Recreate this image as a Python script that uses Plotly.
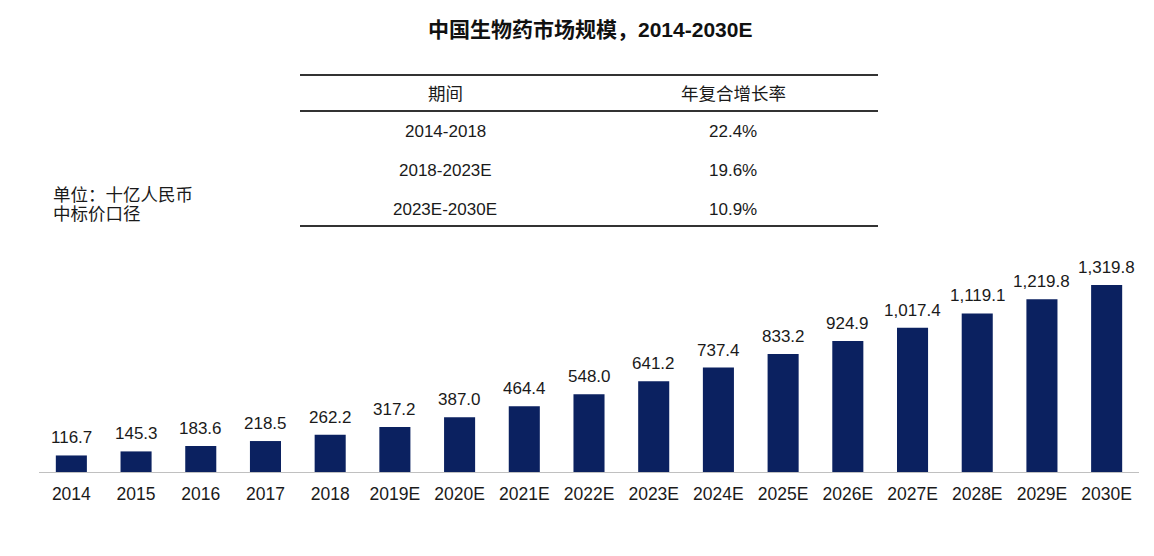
import plotly.graph_objects as go

years = ["2014", "2015", "2016", "2017", "2018", "2019E", "2020E", "2021E", "2022E",
         "2023E", "2024E", "2025E", "2026E", "2027E", "2028E", "2029E", "2030E"]
values = [116.7, 145.3, 183.6, 218.5, 262.2, 317.2, 387.0, 464.4, 548.0,
          641.2, 737.4, 833.2, 924.9, 1017.4, 1119.1, 1219.8, 1319.8]

periods = ["2014-2018", "2018-2023E", "2023E-2030E"]
cagr = ["22.4%", "19.6%", "10.9%"]
table_headers = ["期间", "年复合增长率"]

title = "<b>中国生物药市场规模，2014-2030E</b>"
unit_lines = ["单位：十亿人民币", "中标价口径"]

W, H = 1154, 556
ML, MR, MT, MB = 39, 15, 250, 84
PW = W - ML - MR
PH = H - MT - MB

def px(x):
    return (x - ML) / PW

def py(y):
    return (H - MB - y) / PH

FONT = "Liberation Sans, Arial, Noto Sans CJK SC, sans-serif"
BAR = "#0b2160"
TXT = "#1a1a1a"

labels = [f"{v:,.1f}" for v in values]

fig = go.Figure()
fig.add_trace(go.Bar(
    x=years, y=values, marker=dict(color=BAR, line=dict(width=0)),
    hoverinfo="skip",
))

shapes = []
for yy in [75, 111, 226]:
    shapes.append(dict(type="line", xref="paper", yref="paper",
                       x0=px(300), x1=px(878), y0=py(yy), y1=py(yy),
                       line=dict(color="#333333", width=2)))

ann = []
# data labels
for i, (v, lab) in enumerate(zip(values, labels)):
    ann.append(dict(text=lab, x=i, y=v, xref="x", yref="y", showarrow=False,
                    xanchor="center", yanchor="bottom", yshift=6,
                    font=dict(size=17, color=TXT, family=FONT)))
ann.append(dict(text=title, x=px(590), y=py(30), xref="paper", yref="paper",
                showarrow=False, xanchor="center", yanchor="middle",
                font=dict(size=21, color="#111111", family=FONT)))
col_x = [445, 733]
for i, h in enumerate(table_headers):
    ann.append(dict(text=h, x=px(col_x[i]), y=py(94), xref="paper", yref="paper",
                    showarrow=False, xanchor="center", yanchor="middle",
                    font=dict(size=17.5, color=TXT, family=FONT)))
row_y = [131, 170, 209]
for i in range(len(periods)):
    ann.append(dict(text=periods[i], x=px(col_x[0]), y=py(row_y[i]), xref="paper", yref="paper",
                    showarrow=False, xanchor="center", yanchor="middle",
                    font=dict(size=17, color=TXT, family=FONT)))
    ann.append(dict(text=cagr[i], x=px(col_x[1]), y=py(row_y[i]), xref="paper", yref="paper",
                    showarrow=False, xanchor="center", yanchor="middle",
                    font=dict(size=17, color=TXT, family=FONT)))
for i, line in enumerate(unit_lines):
    ann.append(dict(text=line, x=px(51), y=py(195 + 19 * i), xref="paper", yref="paper",
                    showarrow=False, xanchor="left", yanchor="middle", align="left",
                    font=dict(size=17.5, color=TXT, family=FONT)))

fig.update_layout(
    width=W, height=H,
    margin=dict(l=ML, r=MR, t=MT, b=MB),
    paper_bgcolor="white", plot_bgcolor="white",
    bargap=0.52, showlegend=False,
    shapes=shapes, annotations=ann,
    font=dict(family=FONT),
    xaxis=dict(type="category", categoryorder="array", categoryarray=years,
               showline=True, linecolor="#c0c0c0", linewidth=1, showgrid=False,
               ticks="", ticklabelstandoff=6,
               tickfont=dict(size=17.5, color=TXT, family=FONT),
               fixedrange=True),
    yaxis=dict(visible=False, range=[0, PH / (187 / 1319.8)], fixedrange=True),
)

fig.write_html("out.html")
